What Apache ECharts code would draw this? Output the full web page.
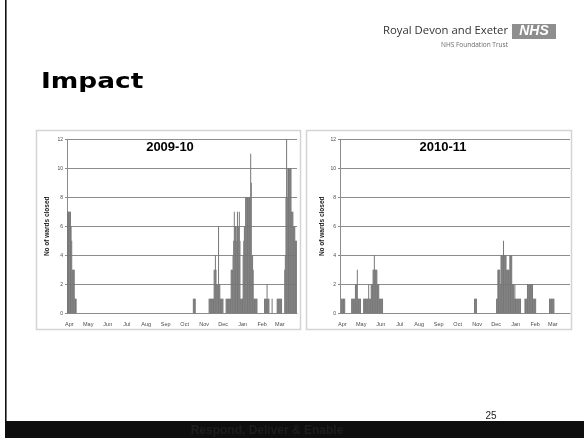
<!DOCTYPE html>
<html>
<head>
<meta charset="utf-8">
<title>Impact</title>
<script src="https://cdn.jsdelivr.net/npm/echarts@6/dist/echarts.min.js"></script>
<style>
  html, body { margin: 0; padding: 0; background: #ffffff; }
  #chart { width: 584px; height: 438px; }
</style>
</head>
<body>
<div id="chart"></div>
<script>
// Month axis (financial year, April to March) and days per month
const monthNames = ['Apr', 'May', 'Jun', 'Jul', 'Aug', 'Sep', 'Oct', 'Nov', 'Dec', 'Jan', 'Feb', 'Mar'];
const monthLengths = [30, 31, 30, 31, 31, 30, 31, 30, 31, 31, 28, 31];
const yTicks = [0, 2, 4, 6, 8, 10, 12];

// Wards closed per day, 2009-10 (one line per month)
const wardsClosed0910 = [
  7,7,7,7,7,7,6,5,3,3,3,3,1,1,1,0,0,0,0,0,0,0,0,0,0,0,0,0,0,0,            // Apr
  0,0,0,0,0,0,0,0,0,0,0,0,0,0,0,0,0,0,0,0,0,0,0,0,0,0,0,0,0,0,0,          // May
  0,0,0,0,0,0,0,0,0,0,0,0,0,0,0,0,0,0,0,0,0,0,0,0,0,0,0,0,0,0,            // Jun
  0,0,0,0,0,0,0,0,0,0,0,0,0,0,0,0,0,0,0,0,0,0,0,0,0,0,0,0,0,0,0,          // Jul
  0,0,0,0,0,0,0,0,0,0,0,0,0,0,0,0,0,0,0,0,0,0,0,0,0,0,0,0,0,0,0,          // Aug
  0,0,0,0,0,0,0,0,0,0,0,0,0,0,0,0,0,0,0,0,0,0,0,0,0,0,0,0,0,0,            // Sep
  0,0,0,0,0,0,0,0,0,0,0,0,0,0,0,0,0,1,1,1,1,0,0,0,0,0,0,0,0,0,0,          // Oct
  0,0,0,0,0,0,0,0,0,0,0,1,1,1,1,1,1,1,1,3,3,4,3,2,2,2,6,2,2,1,            // Nov
  1,1,1,1,0,0,0,0,1,1,1,1,1,1,1,1,3,3,3,4,5,7,6,6,5,6,7,6,6,7,5,          // Dec
  1,1,1,1,4,5,6,6,8,8,8,8,8,8,8,8,11,9,4,4,3,1,1,1,1,1,1,0,0,0,0,         // Jan
  0,0,0,0,0,0,0,1,1,1,1,2,1,1,1,0,0,0,0,1,0,0,0,0,0,0,0,1,                // Feb
  1,1,1,1,1,1,1,0,0,0,0,3,4,8,12,8,10,10,10,10,10,10,7,7,7,6,6,6,5,5,5    // Mar
];

// Wards closed per day, 2010-11 (one line per month)
const wardsClosed1011 = [
  0,0,1,1,1,1,1,1,0,0,0,0,0,0,0,0,0,0,1,1,1,1,1,1,2,2,2,3,1,1,            // Apr
  1,1,1,0,0,0,0,1,1,1,1,1,1,1,1,2,1,1,1,2,2,2,3,3,4,3,3,3,3,2,2,          // May
  2,1,1,1,1,1,1,0,0,0,0,0,0,0,0,0,0,0,0,0,0,0,0,0,0,0,0,0,0,0,            // Jun
  0,0,0,0,0,0,0,0,0,0,0,0,0,0,0,0,0,0,0,0,0,0,0,0,0,0,0,0,0,0,0,          // Jul
  0,0,0,0,0,0,0,0,0,0,0,0,0,0,0,0,0,0,0,0,0,0,0,0,0,0,0,0,0,0,0,          // Aug
  0,0,0,0,0,0,0,0,0,0,0,0,0,0,0,0,0,0,0,0,0,0,0,0,0,0,0,0,0,0,            // Sep
  0,0,0,0,0,0,0,0,0,0,0,0,0,0,0,0,0,0,0,0,0,0,0,0,0,0,0,0,0,0,1,          // Oct
  1,1,1,0,0,0,0,0,0,0,0,0,0,0,0,0,0,0,0,0,0,0,0,0,0,0,0,0,0,0,            // Nov
  0,0,0,0,1,1,3,3,3,3,2,4,4,4,4,5,4,4,4,4,3,3,3,3,3,4,4,4,4,2,2,          // Dec
  2,1,2,1,1,1,1,1,1,1,1,1,0,0,0,0,0,0,1,1,1,1,2,2,2,2,2,2,2,2,2,          // Jan
  1,1,1,1,1,0,0,0,0,0,0,0,0,0,0,0,0,0,0,0,0,0,0,0,0,0,1,1,                // Feb
  1,1,1,1,1,1,0,0,0,0,0,0,0,0,0,0,0,0,0,0,0,0,0,0,0,0,0,0,0,0,0           // Mar
];

// Day index of the first day of each month, and the month name shown there
const monthStartLabel = {};
let dayCount = 0;
monthLengths.forEach(function (len, m) {
  monthStartLabel[dayCount] = monthNames[m];
  dayCount += len;
});
const dayCategories = Array.from({ length: dayCount }, function (_, i) { return String(i); });
const isMonthStart = function (index) { return monthStartLabel[index] !== undefined; };

const GREY_TEXT = '#4a4a4a';
const LINE = '#8c8c8c';

function makeXAxis(gridIndex) {
  return {
    type: 'category',
    gridIndex: gridIndex,
    data: dayCategories,
    boundaryGap: true,
    axisLine: { lineStyle: { color: LINE, width: 1 } },
    axisTick: { interval: isMonthStart, length: 3, lineStyle: { color: LINE } },
    axisLabel: {
      interval: isMonthStart,
      formatter: function (value, index) { return monthStartLabel[index] || ''; },
      fontFamily: 'Liberation Sans',
      fontSize: 5.5,
      color: GREY_TEXT,
      margin: 8,
      padding: [0, 0, 0, 4]
    },
    splitLine: { show: false }
  };
}

function makeYAxis(gridIndex, nameGap) {
  return {
    type: 'value',
    gridIndex: gridIndex,
    min: yTicks[0],
    max: yTicks[yTicks.length - 1],
    interval: yTicks[1] - yTicks[0],
    name: 'No of wards closed',
    nameLocation: 'middle',
    nameGap: nameGap,
    nameTextStyle: { fontFamily: 'Liberation Sans', fontSize: 6.5, fontWeight: 'bold', color: '#222' },
    axisLine: { show: true, lineStyle: { color: LINE, width: 1 } },
    axisTick: { show: true, length: 2, lineStyle: { color: LINE } },
    axisLabel: { fontFamily: 'Liberation Sans', fontSize: 5, color: GREY_TEXT, margin: 4 },
    splitLine: { show: true, lineStyle: { color: LINE, width: 1 } }
  };
}

function makeBars(axisIndex, values) {
  return {
    type: 'bar',
    xAxisIndex: axisIndex,
    yAxisIndex: axisIndex,
    data: values,
    barCategoryGap: '0%',
    itemStyle: { color: '#777777' },
    silent: true
  };
}

const chart = echarts.init(document.getElementById('chart'), null, { renderer: 'canvas' });

chart.setOption({
  animation: false,
  backgroundColor: '#ffffff',
  grid: [
    { left: 67, top: 139.3, width: 230, height: 174 },
    { left: 340, top: 139.3, width: 230, height: 174 }
  ],
  xAxis: [makeXAxis(0), makeXAxis(1)],
  yAxis: [makeYAxis(0, 16), makeYAxis(1, 14)],
  series: [makeBars(0, wardsClosed0910), makeBars(1, wardsClosed1011)],
  graphic: [
    // slide frame line on the left
    { type: 'rect', z: 0, shape: { x: 5, y: 0, width: 1.6, height: 422 }, style: { fill: '#111111' } },
    // footer band
    { type: 'rect', z: 0, shape: { x: 5, y: 421, width: 579, height: 17 }, style: { fill: '#0e0e0e' } },
    {
      type: 'text', z: 1, x: 267, y: 431,
      style: {
        text: 'Respond, Deliver & Enable', fill: '#1d1d1d',
        font: 'bold 12px "Liberation Sans"', textAlign: 'center', textVerticalAlign: 'middle'
      }
    },
    {
      type: 'text', z: 1, x: 491, y: 416,
      style: {
        text: '25', fill: '#222222',
        font: '10px "Liberation Sans"', textAlign: 'center', textVerticalAlign: 'middle'
      }
    },
    // organisation header
    {
      type: 'text', z: 1, x: 508, y: 31,
      style: {
        text: 'Royal Devon and Exeter', fill: '#333333',
        font: '11.3px "Open Sans"', textAlign: 'right', textVerticalAlign: 'middle'
      }
    },
    {
      type: 'text', z: 1, x: 508, y: 45,
      style: {
        text: 'NHS Foundation Trust', fill: '#6a6a6a',
        font: '6.5px "Open Sans"', textAlign: 'right', textVerticalAlign: 'middle'
      }
    },
    { type: 'rect', z: 1, shape: { x: 512, y: 24, width: 44, height: 15 }, style: { fill: '#8e8e8e' } },
    {
      type: 'text', z: 2, x: 534, y: 31.5,
      style: {
        text: 'NHS', fill: '#ffffff',
        font: 'italic bold 14px "Liberation Sans"', textAlign: 'center', textVerticalAlign: 'middle'
      }
    },
    // slide title
    {
      type: 'text', z: 1, x: 41, y: 82, scaleX: 1.2, scaleY: 1,
      style: {
        text: 'Impact', fill: '#000000',
        font: 'bold 22px "DejaVu Sans"', textAlign: 'left', textVerticalAlign: 'middle'
      }
    },
    // chart panels
    { type: 'rect', z: 0, shape: { x: 36.5, y: 130.5, width: 264, height: 199 }, style: { fill: 'none', stroke: '#d4d4d4', lineWidth: 1.5 } },
    { type: 'rect', z: 0, shape: { x: 306.5, y: 130.5, width: 265, height: 199 }, style: { fill: 'none', stroke: '#d4d4d4', lineWidth: 1.5 } },
    {
      type: 'text', z: 3, x: 170, y: 147,
      style: {
        text: '2009-10', fill: '#000000',
        font: 'bold 13px "Liberation Sans"', textAlign: 'center', textVerticalAlign: 'middle'
      }
    },
    {
      type: 'text', z: 3, x: 443, y: 147,
      style: {
        text: '2010-11', fill: '#000000',
        font: 'bold 13px "Liberation Sans"', textAlign: 'center', textVerticalAlign: 'middle'
      }
    }
  ]
});
</script>
</body>
</html>
